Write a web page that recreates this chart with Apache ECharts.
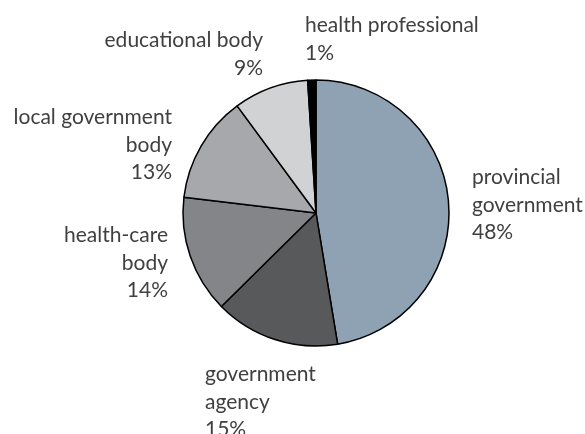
<!DOCTYPE html>
<html>
<head>
<meta charset="utf-8">
<script src="https://cdn.jsdelivr.net/npm/echarts@6/dist/echarts.min.js"></script>
<style>html,body{margin:0;padding:0;background:#fff}#c{width:585px;height:434px}</style>
</head>
<body>
<div id="c"></div>
<script>
const categories = ["provincial government", "government agency", "health-care body", "local government body", "educational body", "health professional"];
const labelText = ["provincial\ngovernment", "government\nagency", "health-care\nbody", "local government\nbody", "educational body", "health professional"];
const shares = [47.4, 15.2, 14.3, 13.0, 9.1, 1.0];
const colors = ["#8fa2b3", "#58595b", "#848589", "#a7a8ab", "#d1d2d4", "#000000"];

// label anchor placement (layout only)
const labelPlace = [
  {x: 472, y: 205, align: 'left'},
  {x: 205, y: 402, align: 'left'},
  {x: 168, y: 263, align: 'right'},
  {x: 172, y: 145, align: 'right'},
  {x: 263, y: 54, align: 'right'},
  {x: 305, y: 39, align: 'left'}
];

const chart = echarts.init(document.getElementById('c'), null, {renderer: 'canvas'});
chart.setOption({
  animation: false,
  series: [{
    type: 'pie',
    center: [316, 213],
    radius: [0, 133],
    startAngle: 90,
    clockwise: true,
    percentPrecision: 0,
    avoidLabelOverlap: false,
    itemStyle: {borderColor: '#000', borderWidth: 1.5},
    label: {
      show: true,
      position: 'outside',
      fontFamily: 'Lato',
      fontSize: 21,
      lineHeight: 27.5,
      color: '#404040',
      formatter: p => labelText[p.dataIndex] + '\n' + p.percent + '%'
    },
    labelLine: {show: false},
    labelLayout: p => ({
      x: labelPlace[p.dataIndex].x,
      y: labelPlace[p.dataIndex].y,
      align: labelPlace[p.dataIndex].align,
      verticalAlign: 'middle',
      hideOverlap: false
    }),
    emphasis: {disabled: true},
    data: categories.map((c, i) => ({name: c, value: shares[i], itemStyle: {color: colors[i]}}))
  }]
});
</script>
</body>
</html>
